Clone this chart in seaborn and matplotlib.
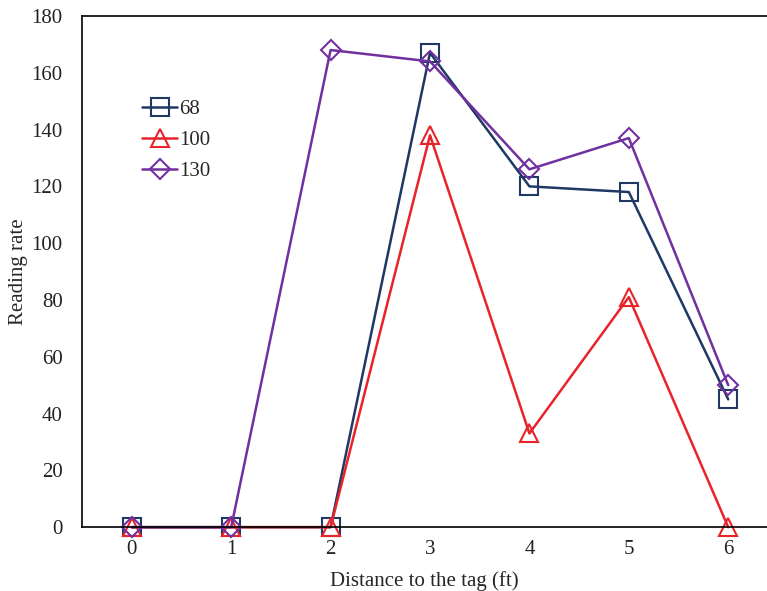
import matplotlib
matplotlib.use("Agg")
import matplotlib.pyplot as plt
import seaborn as sns
import pandas as pd

# data
distance = [0, 1, 2, 3, 4, 5, 6]
rate_68 = [0, 0, 0, 167, 120, 118, 45]
rate_100 = [0, 0, 0, 138, 33, 81, 0]
rate_130 = [0, 0, 168, 164, 126, 137, 50]
series_labels = ["68", "100", "130"]

sns.set_theme(style="white")
plt.rcParams["font.family"] = ["Liberation Serif", "DejaVu Serif"]
plt.rcParams["font.size"] = 15

df = pd.DataFrame({"distance": distance * 3,
                   "rate": rate_68 + rate_100 + rate_130,
                   "series": [s for s in series_labels for _ in distance]})

styles = {
    "68":  dict(color="#1f3864", marker="s", ms=13),
    "100": dict(color="#e8232a", marker="^", ms=13),
    "130": dict(color="#7030a0", marker="D", ms=10),
}

fig = plt.figure(figsize=(7.67, 5.91), dpi=100)
ax = fig.add_axes([0.107, 0.108, 0.893, 0.865])

for name in series_labels:
    sub = df[df["series"] == name]
    st = styles[name]
    sns.lineplot(data=sub, x="distance", y="rate", ax=ax, label=name,
                 color=st["color"], marker=st["marker"], markersize=st["ms"],
                 markerfacecolor="none", markeredgecolor=st["color"],
                 markeredgewidth=1.5, linewidth=1.8, clip_on=False)

ax.set_xlim(-0.5, 6.39)
ax.set_ylim(0, 180)
ax.set_xticks(distance)
ax.set_yticks(range(0, 181, 20))
ax.tick_params(length=0, labelsize=15, colors="#222222")
ax.tick_params(axis="x", pad=9)
ax.tick_params(axis="y", pad=14)
for side in ["left", "top", "bottom"]:
    ax.spines[side].set_color("black")
    ax.spines[side].set_linewidth(1.2)
ax.spines["right"].set_visible(False)

ax.set_xlabel("Distance to the tag (ft)", fontsize=15, labelpad=9)
ax.set_ylabel("Reading rate", fontsize=15)
ax.yaxis.set_label_coords(-0.079, 0.5)

ax.legend(loc="upper left", bbox_to_anchor=(0.076, 0.853), frameon=False,
          fontsize=15, handlelength=1.65, handletextpad=0.1,
          labelspacing=0.55, borderaxespad=0)

fig.savefig("out.png", dpi=100)
